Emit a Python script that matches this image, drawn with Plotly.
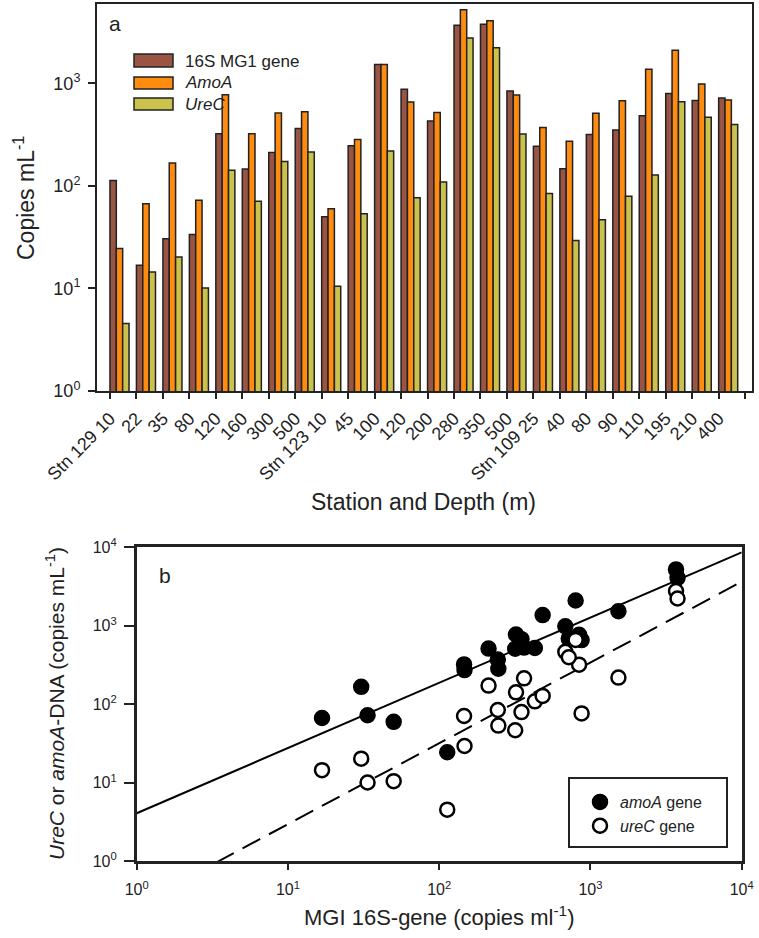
import numpy as np
import plotly.graph_objects as go

# ---------------- data ----------------
depth_labels = ["Stn 129 10", "22", "35", "80", "120", "160", "300", "500",
                "Stn 123 10", "45", "100", "120", "200", "280", "350", "500",
                "Stn 109 25", "40", "80", "90", "110", "195", "210", "400"]
mg1_16s = [113, 16.8, 30.5, 33.6, 322, 146, 212, 364,
           50, 246, 1531, 874, 429, 3680, 3765, 841,
           244, 147, 318, 350, 483, 798, 682, 719]
amoA = [24.5, 66.9, 167, 72.6, 774, 322, 513, 528,
        59.8, 284, 1531, 657, 521, 5226, 4083, 769,
        372, 273, 510, 676, 1370, 2099, 984, 687]
ureC = [4.55, 14.5, 20.3, 10.1, 142, 71, 173, 214,
        10.5, 53.5, 219, 76.6, 109, 2767, 2225, 320,
        84.5, 29.4, 46.7, 79.5, 128, 661, 466, 398]
series_names = ["16S MG1 gene", "<i>AmoA</i>", "<i>UreC</i>"]

# regression lines
fit_x = [1, 10000]
amoA_fit = [4.09, 8630]
ureC_fit = [0.278, 3650]

log_ticks = [1, 10, 100, 1000, 10000]
log_ticktext = ["10<sup>0</sup>", "10<sup>1</sup>", "10<sup>2</sup>", "10<sup>3</sup>", "10<sup>4</sup>"]

# ---------------- figure ----------------
W, H = 759, 938
def px(x):
    return x / W
def py(y):
    return 1 - y / H

FONT = "Liberation Sans, Arial, sans-serif"
INK = "#222222"
colors = ["#9A5443", "#FF8C0F", "#CBC24E"]

fig = go.Figure()
x_idx = np.arange(len(depth_labels))
for vals, col, nm in zip([mg1_16s, amoA, ureC], colors, series_names):
    fig.add_trace(go.Bar(x=x_idx, y=vals, name=nm,
                         marker=dict(color=col, line=dict(color=INK, width=1.5)),
                         showlegend=False, xaxis="x", yaxis="y"))

fig.add_trace(go.Scatter(x=fit_x, y=amoA_fit, mode="lines",
                         line=dict(color="black", width=2), showlegend=False,
                         xaxis="x2", yaxis="y2"))
fig.add_trace(go.Scatter(x=fit_x, y=ureC_fit, mode="lines",
                         line=dict(color="black", width=2, dash="20px,10px"), showlegend=False,
                         xaxis="x2", yaxis="y2"))
fig.add_trace(go.Scatter(x=mg1_16s, y=amoA, mode="markers", name="<i>amoA</i> gene",
                         marker=dict(size=15, color="black", line=dict(color="black", width=1.5)),
                         xaxis="x2", yaxis="y2"))
fig.add_trace(go.Scatter(x=mg1_16s, y=ureC, mode="markers", name="<i>ureC</i> gene",
                         marker=dict(size=14, color="white", line=dict(color="black", width=2.5)),
                         xaxis="x2", yaxis="y2"))

tickpos = [i - 0.36 for i in range(len(depth_labels) + 1)]

common = dict(showline=True, linecolor=INK, mirror=True, showgrid=False,
              zeroline=False, automargin=False, ticks="outside", tickcolor=INK,
              tickmode="array")

fig.update_layout(
    template="none",
    width=W, height=H,
    margin=dict(l=0, r=0, t=0, b=0, autoexpand=False),
    paper_bgcolor="white", plot_bgcolor="white",
    font=dict(family=FONT, color=INK),
    barmode="group", bargap=0.28, bargroupgap=0,
    xaxis=dict(domain=[px(97), px(752)], range=[-0.85, 23.9], anchor="y",
               tickvals=tickpos, ticktext=depth_labels + [""],
               tickangle=-45, ticklen=6, tickwidth=1.5, linewidth=2,
               tickfont=dict(size=18), ticklabelstandoff=2, **common),
    yaxis=dict(domain=[py(391), py(4)], type="log", range=[0, 3.774], anchor="x",
               tickvals=log_ticks[:4], ticktext=log_ticktext[:4],
               ticklen=7, tickwidth=1.5, linewidth=2,
               tickfont=dict(size=18), ticklabelstandoff=4, **common),
    xaxis2=dict(domain=[px(136.7), px(741.7)], type="log", range=[0, 4], anchor="y2",
                tickvals=log_ticks, ticktext=log_ticktext,
                ticklen=6, tickwidth=2, linewidth=2.5,
                tickfont=dict(size=16), ticklabelstandoff=6, **common),
    yaxis2=dict(domain=[py(861.3), py(547.3)], type="log", range=[0, 4], anchor="x2",
                tickvals=log_ticks, ticktext=log_ticktext,
                ticklen=10, tickwidth=2, linewidth=2.5,
                tickfont=dict(size=16), ticklabelstandoff=4, **common),
    legend=dict(x=px(580), y=py(785), xanchor="left", yanchor="top",
                bgcolor="rgba(0,0,0,0)", borderwidth=0,
                font=dict(size=16, family=FONT, color=INK)),
)

shapes = []
# top legend swatches
for (y0, y1), col in zip([(54, 67), (77, 89), (98, 110)], colors):
    shapes.append(dict(type="rect", xref="paper", yref="paper",
                       x0=px(134), x1=px(173), y0=py(y1), y1=py(y0),
                       fillcolor=col, line=dict(color=INK, width=1.5)))
# bottom legend box
shapes.append(dict(type="rect", xref="paper", yref="paper",
                   x0=px(569), x1=px(727), y0=py(847), y1=py(778),
                   fillcolor="rgba(0,0,0,0)", line=dict(color=INK, width=2)))
fig.update_layout(shapes=shapes)

ann = []
for txt, yc in zip(series_names, [61, 83, 104]):
    ann.append(dict(text=txt, x=px(183), y=py(yc), xref="paper", yref="paper",
                    xanchor="left", yanchor="middle", showarrow=False,
                    font=dict(size=17)))
ann += [
    dict(text="a", x=px(115), y=py(24), xref="paper", yref="paper", showarrow=False,
         xanchor="center", yanchor="middle", font=dict(size=21)),
    dict(text="b", x=px(165), y=py(575), xref="paper", yref="paper", showarrow=False,
         xanchor="center", yanchor="middle", font=dict(size=21)),
    dict(text="Copies mL<sup>-1</sup>", x=px(24), y=py(198), xref="paper", yref="paper",
         showarrow=False, textangle=-90, xanchor="center", yanchor="middle",
         font=dict(size=23)),
    dict(text="Station and Depth (m)", x=px(424), y=py(502), xref="paper", yref="paper",
         showarrow=False, xanchor="center", yanchor="middle", font=dict(size=23)),
    dict(text="<i>UreC</i> or <i>amoA</i>-DNA (copies mL<sup>-1</sup>)", x=px(55), y=py(704),
         xref="paper", yref="paper", showarrow=False, textangle=-90,
         xanchor="center", yanchor="middle", font=dict(size=21)),
    dict(text="MGI 16S-gene (copies ml<sup>-1</sup>)", x=px(439), y=py(916),
         xref="paper", yref="paper", showarrow=False, xanchor="center", yanchor="middle",
         font=dict(size=22)),
]
fig.update_layout(annotations=ann)

fig.write_html("out.html", config={"displayModeBar": False},
               post_script="document.body.style.margin='0';document.body.style.padding='0';")
